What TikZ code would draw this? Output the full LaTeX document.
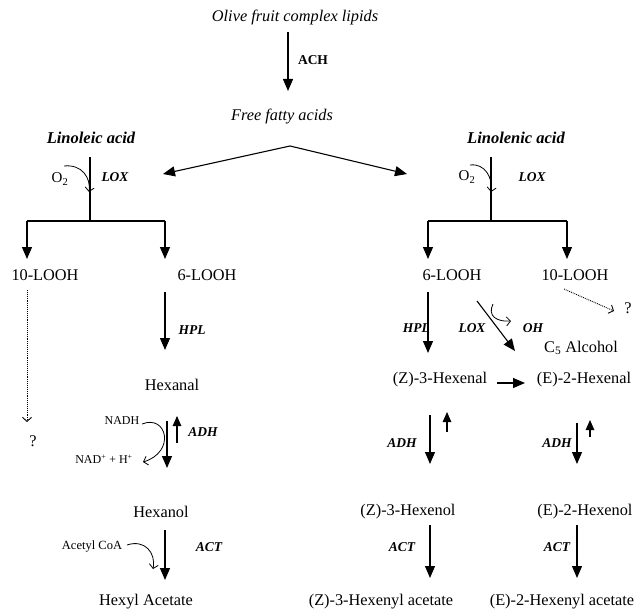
\documentclass[tikz,border=0pt]{standalone}
\usepackage{fontspec}
\setmainfont{Liberation Serif}
\usetikzlibrary{arrows.meta}
\begin{document}
\begin{tikzpicture}[x=1pt,y=-1pt,
 txt/.style={font=\fontsize{16.3}{18}\selectfont, inner sep=0pt},
 itx/.style={font=\fontsize{16.3}{18}\selectfont\itshape, inner sep=0pt},
 acid/.style={font=\fontsize{16.5}{18}\selectfont\bfseries\itshape, inner sep=0pt},
 enz/.style={font=\fontsize{13.5}{15}\selectfont\bfseries\itshape, inner sep=0pt},
 enzup/.style={font=\fontsize{13.5}{15}\selectfont\bfseries, inner sep=0pt},
 small/.style={font=\fontsize{12}{13}\selectfont, inner sep=0pt},
 oxy/.style={font=\fontsize{15}{16}\selectfont, inner sep=0pt},
 main/.style={line width=1.1pt, -{Triangle[length=12pt,width=10pt]}},
 upar/.style={line width=1.1pt, -{Triangle[length=10pt,width=8.5pt]}},
 plain/.style={line width=1.1pt},
 barb/.style={line width=0.8pt, -{Straight Barb[length=4pt,width=9pt]}},
 dots/.style={line width=0.9pt, densely dotted, -{Straight Barb[length=4pt,width=9pt]}},
]
\useasboundingbox (0,0) rectangle (635,610);

% top
\node[itx] (olive) at (295,17) {Olive fruit complex lipids};
\coordinate (achA) at (288,32); \coordinate (achB) at (288,91);
\draw[main] (achA) -- (achB);
\node[enzup] (ach) at (313,60) {ACH};
\node[itx] (ffa) at (282,117) {Free fatty acids};
\coordinate (apex) at (290,146);
\coordinate (lt) at (163,174); \coordinate (rt) at (407,174);
\draw[main] (apex) -- (lt);
\draw[main] (apex) -- (rt);

% left branch
\node[acid] (linoleic) at (91,138) {Linoleic acid};
\coordinate (lv1) at (90,157); \coordinate (lv2) at (90,221);
\coordinate (lh1) at (27,221); \coordinate (lh2) at (165,221);
\coordinate (lh1b) at (27,259); \coordinate (lh2b) at (165,259);
\draw[plain] (lv1) -- (lv2);
\draw[plain] (lh1) -- (lh2);
\draw[main] (lh1) -- (lh1b);
\draw[main] (lh2) -- (lh2b);
\node[oxy] (o2l) at (60,179) {O\textsubscript{2}};
\coordinate (o2la) at (64,166); \coordinate (o2lb) at (89,192);
\draw[barb] (o2la) .. controls (82,164) and (91,178) .. (o2lb);
\node[enz] (loxl) at (115,177) {LOX};
\node[txt] (l10) at (45,275) {10-LOOH};
\node[txt] (l6) at (207,275) {6-LOOH};
\coordinate (dl1) at (27,290); \coordinate (dl2) at (27,422);
\draw[dots] (dl1) -- (dl2);
\node[txt] (ql) at (33,441) {?};
\coordinate (hpl1) at (165,292); \coordinate (hpl2) at (165,350);
\draw[main] (hpl1) -- (hpl2);
\node[enz] (hpll) at (192,330) {HPL};
\node[txt] (hexanal) at (172,385) {Hexanal};
\coordinate (ad1) at (167,421); \coordinate (ad2) at (167,468);
\draw[main] (ad1) -- (ad2);
\coordinate (au1) at (177,443); \coordinate (au2) at (177,416);
\draw[upar] (au1) -- (au2);
\node[enz] (adhl) at (203,432) {ADH};
\node[small] (nadh) at (122,421) {NADH};
\node[small] (nad) at (104,459) {NAD\textsuperscript{+} + H\textsuperscript{+}};
\coordinate (nc1) at (142,424); \coordinate (nc2) at (143,462);
\draw[barb] (nc1) .. controls (167,414) and (176,452) .. (nc2);
\node[txt] (hexanol) at (161,512) {Hexanol};
\coordinate (act1) at (165,530); \coordinate (act2) at (165,580);
\draw[main] (act1) -- (act2);
\node[enz] (actl) at (209,547) {ACT};
\node[small, font=\fontsize{12.5}{13}\selectfont] (acoa) at (92,547) {Acetyl CoA};
\coordinate (ac1) at (127,545); \coordinate (ac2) at (153,569);
\draw[barb] (ac1) .. controls (145,539) and (156,553) .. (ac2);
\node[txt] (hexylac) at (146,602) {Hexyl Acetate};

% right branch
\node[acid] (linolenic) at (516,138) {Linolenic acid};
\coordinate (rv1) at (491,157); \coordinate (rv2) at (491,221);
\coordinate (rh1) at (428,221); \coordinate (rh2) at (567,221);
\coordinate (rh1b) at (428,259); \coordinate (rh2b) at (567,259);
\draw[plain] (rv1) -- (rv2);
\draw[plain] (rh1) -- (rh2);
\draw[main] (rh1) -- (rh1b);
\draw[main] (rh2) -- (rh2b);
\node[oxy] (o2r) at (467,177) {O\textsubscript{2}};
\coordinate (o2ra) at (470,165); \coordinate (o2rb) at (491,192);
\draw[barb] (o2ra) .. controls (485,163) and (493,178) .. (o2rb);
\node[enz] (loxr) at (532,177) {LOX};
\node[txt] (r6) at (452,275) {6-LOOH};
\node[txt] (r10) at (575,275) {10-LOOH};
\coordinate (dr1) at (564,289); \coordinate (dr2) at (614,311);
\draw[dots] (dr1) -- (dr2);
\node[txt] (qr) at (628,308) {?};
\coordinate (hpr1) at (428,292); \coordinate (hpr2) at (428,353);
\draw[main] (hpr1) -- (hpr2);
\node[enz, anchor=east] (hplr) at (430,328) {HPL};
\coordinate (lx1) at (477,301); \coordinate (lx2) at (515,351);
\draw[main] (lx1) -- (lx2);
\node[enz] (loxd) at (472,328) {LOX};
\coordinate (oh1) at (493,304); \coordinate (oh2) at (511,321);
\draw[barb] (oh1) .. controls (487,316) and (497,322) .. (oh2);
\node[enz] (oh) at (533,328) {OH};
\node[txt] (c5) at (581,348) {C\textsubscript{5} Alcohol};
\node[txt] (zhexenal) at (440,380) {(Z)-3-Hexenal};
\node[txt] (ehexenal) at (584,380) {(E)-2-Hexenal};
\coordinate (iso1) at (497,383); \coordinate (iso2) at (525,383);
\draw[main] (iso1) -- (iso2);
\coordinate (zd1) at (430,415); \coordinate (zd2) at (430,464);
\draw[main] (zd1) -- (zd2);
\coordinate (zu1) at (447,432); \coordinate (zu2) at (447,412);
\draw[upar] (zu1) -- (zu2);
\node[enz] (adhz) at (402,443) {ADH};
\coordinate (ed1) at (577,423); \coordinate (ed2) at (577,464);
\draw[main] (ed1) -- (ed2);
\coordinate (eu1) at (590,437); \coordinate (eu2) at (590,420);
\draw[upar] (eu1) -- (eu2);
\node[enz] (adhe) at (557,443) {ADH};
\node[txt] (zhexenol) at (408,512) {(Z)-3-Hexenol};
\node[txt] (ehexenol) at (585,512) {(E)-2-Hexenol};
\coordinate (za1) at (430,525); \coordinate (za2) at (430,578);
\draw[main] (za1) -- (za2);
\node[enz] (actz) at (402,547) {ACT};
\coordinate (ea1) at (577,525); \coordinate (ea2) at (577,578);
\draw[main] (ea1) -- (ea2);
\node[enz] (acte) at (557,547) {ACT};
\node[txt] (zacet) at (381,602) {(Z)-3-Hexenyl acetate};
\node[txt] (eacet) at (562,602) {(E)-2-Hexenyl acetate};
\end{tikzpicture}
\end{document}
